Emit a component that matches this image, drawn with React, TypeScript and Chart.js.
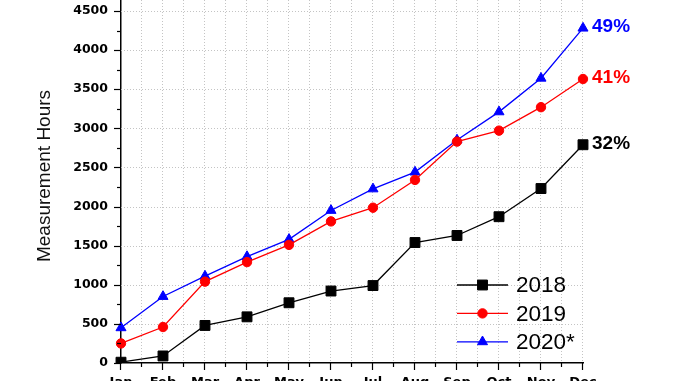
import React, { useEffect, useRef } from 'react';
import { Chart, registerables } from 'chart.js';
import { drawPoint } from 'chart.js/helpers';

Chart.register(...registerables);

const months = ['Jan', 'Feb', 'Mar', 'Apr', 'May', 'Jun', 'Jul', 'Aug', 'Sep', 'Oct', 'Nov', 'Dec'];
const hours2018 = [10, 90, 480, 590, 770, 920, 990, 1540, 1630, 1870, 2230, 2790];
const hours2019 = [250, 460, 1040, 1290, 1510, 1810, 1985, 2340, 2830, 2970, 3270, 3630];
const hours2020 = [450, 850, 1110, 1360, 1580, 1950, 2225, 2440, 2850, 3210, 3640, 4280];
const seriesNames = ['2018', '2019', '2020*'];
const growthLabels = ['32%', '41%', '49%'];
const yTickValues = [0, 500, 1000, 1500, 2000, 2500, 3000, 3500, 4000, 4500];
const yMinorTickValues = [250, 750, 1250, 1750, 2250, 2750, 3250, 3750, 4250];
const yMax = 4640;
const yTitle = 'Measurement Hours';

const colors = ['#000000', '#ff0000', '#0000ff'];
const styles = ['rect', 'circle', 'triangle'];
const radii = [7, 4.7, 5.8];

const SHIFT = 8; // canvas is shifted up so the plot reaches the top edge

const decor = {
  id: 'decor',
  beforeDatasetsDraw(chart: any) {
    const { ctx, chartArea: a, scales } = chart;
    const x = scales.x, y = scales.y;
    ctx.save();
    ctx.strokeStyle = '#c4c4c4';
    ctx.lineWidth = 1;
    ctx.setLineDash([1, 2]);
    for (let v = 0.5; v <= months.length - 1; v += 0.5) {
      const px = Math.round(x.getPixelForValue(v)) - 0.5;
      ctx.beginPath();
      ctx.moveTo(px, a.top);
      ctx.lineTo(px, a.bottom);
      ctx.stroke();
    }
    yTickValues.forEach((v) => {
      if (v === 0) return;
      const py = Math.round(y.getPixelForValue(v)) + 0.5;
      ctx.beginPath();
      ctx.moveTo(a.left, py);
      ctx.lineTo(a.right, py);
      ctx.stroke();
    });
    ctx.restore();
  },
  afterDraw(chart: any) {
    const { ctx, chartArea: a, scales } = chart;
    const x = scales.x, y = scales.y;
    ctx.save();
    // tick marks
    ctx.strokeStyle = '#000';
    ctx.lineWidth = 1.2;
    const yTick = (v: number, len: number) => {
      const py = Math.round(y.getPixelForValue(v)) + 0.5;
      ctx.beginPath();
      ctx.moveTo(a.left - len, py);
      ctx.lineTo(a.left, py);
      ctx.stroke();
    };
    yTickValues.forEach((v) => yTick(v, 7));
    yMinorTickValues.forEach((v) => yTick(v, 4));
    for (let v = 0; v <= months.length - 1; v += 0.5) {
      const px = Math.round(x.getPixelForValue(v)) - 0.5;
      const len = Number.isInteger(v) ? 7 : 4;
      ctx.beginPath();
      ctx.moveTo(px, a.bottom);
      ctx.lineTo(px, a.bottom + len);
      ctx.stroke();
    }
    // growth labels at the end of each series
    ctx.font = 'bold 19px "Liberation Sans", Arial, sans-serif';
    ctx.textAlign = 'left';
    ctx.textBaseline = 'middle';
    chart.data.datasets.forEach((ds: any, i: number) => {
      const meta = chart.getDatasetMeta(i);
      const pt = meta.data[meta.data.length - 1];
      ctx.fillStyle = ds.borderColor;
      ctx.fillText(growthLabels[i], pt.x + 9, pt.y - 1);
    });
    // legend
    const lx0 = 457, lx1 = 508, ly0 = 285 + SHIFT, lstep = 28.4;
    ctx.font = '22.5px "Liberation Sans", Arial, sans-serif';
    chart.data.datasets.forEach((ds: any, i: number) => {
      const ly = ly0 + i * lstep;
      ctx.strokeStyle = ds.borderColor;
      ctx.lineWidth = 1.3;
      ctx.beginPath();
      ctx.moveTo(lx0, ly);
      ctx.lineTo(lx1, ly);
      ctx.stroke();
      ctx.fillStyle = ds.borderColor;
      ctx.strokeStyle = ds.borderColor;
      ctx.lineWidth = 1;
      drawPoint(ctx, { pointStyle: ds.pointStyle, radius: ds.pointRadius, rotation: 0, borderWidth: 1 }, (lx0 + lx1) / 2, ly);
      ctx.fillStyle = '#000';
      ctx.fillText(ds.label, 516, ly + 1);
    });
    // y title
    ctx.translate(45, 176 + SHIFT);
    ctx.rotate(-Math.PI / 2);
    ctx.textAlign = 'center';
    ctx.textBaseline = 'middle';
    ctx.fillStyle = '#111';
    ctx.font = '19px "Liberation Sans", Arial, sans-serif';
    ctx.fillText(yTitle, 0, 0);
    ctx.restore();
  },
};

export default function App() {
  const ref = useRef<HTMLCanvasElement | null>(null);
  useEffect(() => {
    document.body.style.margin = '0';
    const series = [hours2018, hours2019, hours2020];
    const chart = new Chart(ref.current as HTMLCanvasElement, {
      type: 'line',
      data: {
        labels: months,
        datasets: series.map((d, i) => ({
          label: seriesNames[i],
          data: d,
          borderColor: colors[i],
          backgroundColor: colors[i],
          pointBackgroundColor: colors[i],
          pointBorderColor: colors[i],
          pointStyle: styles[i] as any,
          pointRadius: radii[i],
          pointBorderWidth: 1,
          borderWidth: 1.3,
          tension: 0,
          fill: false,
        })),
      },
      options: {
        animation: false,
        responsive: false,
        layout: { padding: { left: 0, right: 95, top: 0, bottom: 0 } },
        plugins: { legend: { display: false }, tooltip: { enabled: false } },
        scales: {
          x: {
            type: 'category',
            offset: false,
            grid: { display: false, drawTicks: false },
            border: { display: true, color: '#000', width: 1.5 },
            ticks: {
              color: '#000',
              padding: 12,
              maxRotation: 0,
              autoSkip: false,
              font: { family: '"DejaVu Sans", sans-serif', weight: 'bold', size: 13 },
            },
            afterFit(scale: any) {
              scale.height = 18;
              scale.paddingLeft = 0;
              scale.paddingRight = 0;
            },
          },
          y: {
            type: 'linear',
            min: 0,
            max: yMax,
            grid: { display: false, drawTicks: false },
            border: { display: true, color: '#000', width: 1.5 },
            ticks: {
              color: '#000',
              padding: 13,
              autoSkip: false,
              callback: (v: any) => String(v),
              font: { family: '"DejaVu Sans", sans-serif', weight: 'bold', size: 12.5 },
            },
            afterBuildTicks(scale: any) {
              scale.ticks = yTickValues.map((v) => ({ value: v }));
            },
            afterFit(scale: any) {
              scale.width = 121;
              scale.paddingTop = 0;
              scale.paddingBottom = 0;
            },
          },
        },
      },
      plugins: [decor],
    });
    return () => chart.destroy();
  }, []);
  return (
    <canvas
      ref={ref}
      width={678}
      height={381 + SHIFT}
      style={{ position: 'absolute', left: 0, top: -SHIFT, width: 678, height: 381 + SHIFT }}
    />
  );
}
